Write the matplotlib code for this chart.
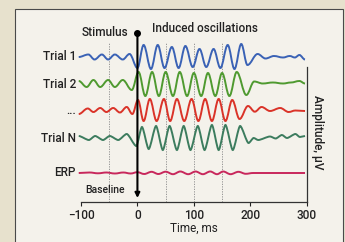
import matplotlib
matplotlib.use("Agg")
import matplotlib.pyplot as plt
from matplotlib.path import Path
from matplotlib.patches import PathPatch, Rectangle

plt.rcParams['font.family'] = ['Roboto', 'DejaVu Sans']
plt.rcParams['font.weight'] = 'medium'

# trace labels, vertical offsets and colours
labels = ['Trial 1', 'Trial 2', '...', 'Trial N', 'ERP']
offsets = [145, 118, 92, 64, 29]
colors = ['#3a62b5', '#4f9a30', '#da3328', '#3c7c5e', '#c8285c']

# extrema of each trace (time in ms, amplitude relative to its offset)
t1 = [-104, -87, -76, -63, -52, -40, -26, -14, 0, 11, 24, 36, 48, 61, 73, 85, 98, 110, 122, 135, 147,
      160, 172, 184, 195, 213, 227, 242, 258, 270, 279, 287, 297]
v1 = [0, 2.5, -2.5, 2.5, -2.5, 2.5, -2.5, 3, -11, 12, -12, 12, -11, 10, -11, 11, -10, 8, -10, 8, -11,
      12, -12, 13, -8, 3, -1.5, 1, -0.5, 1, -0.5, 2, -2.5]

t2 = [-104, -90, -78, -66, -52, -40, -26, -10, 2, 14, 26, 38, 50, 63, 75, 88, 100, 113, 125, 138, 150,
      163, 176, 193, 207, 222, 240, 258, 272, 287, 297]
v2 = [3, -3, 4, -3, 4, -3, 4, -6, 12, -12, 12, -12, 12, -12, 12, -12, 11, -12, 11, -12, 11,
      -12, 12, -11, 2.5, 0.5, 1.5, 0.5, 1.5, 3, 0.5]

t3 = [-104, -88, -78, -66, -55, -43, -31, -19, -9, 1, 11, 22, 34, 47, 58, 70, 83, 96, 108, 120, 132,
      144, 156, 168, 181, 196, 208, 220, 235, 253, 268, 280, 297]
v3 = [-4, 1.5, -2, 2, -2, 2, -2.5, 3, -4, 10, -11, 11, -11, 11, -11, 11, -11, 11, -11, 11, -11,
      11, -11, 10, -9, 4, -1.7, 3, -1, 2, -2, -0.5, -1]

t4 = [-104, -86, -75, -61, -49, -34, -19, -2, 8, 20, 33, 45, 57, 70, 82, 94, 107, 119, 132, 144, 156,
      169, 182, 197, 206, 214, 235, 245, 256, 265, 280, 288, 297]
v4 = [2, -2, 2, -2, 2, -2, 4, -8, 11, -11, 12, -12, 12, -12, 12, -12, 12, -12, 13, -12, 13,
      -12, 12, -5, 0, -2, 1.5, -0.5, 3, 0, 4, 1, 2]

t5 = [-104, -85, -70, -55, -40, -25, -12, 0, 12, 25, 37, 50, 63, 76, 90, 103, 116, 129, 141, 152,
      165, 179, 192, 205, 297]
v5 = [0, 0.5, -0.3, 0.5, -0.5, 0.5, -0.5, 0.8, -1, 1.2, -1, 1.3, -1.2, 1.5, -1.2, 1.5, -1.2, 1.5,
      -1.2, 1.5, -1.2, 1.2, -0.8, 0, 0]

times = [t1, t2, t3, t4, t5]
values = [v1, v2, v3, v4, v5]
sharp = [0.36, 0.36, 0.36, 0.25, 0.36]

grid_ms = [-50, 50, 100, 150]
xticks = [-100, 0, 100, 200, 300]


def wave_path(t, v, base, k):
    # smooth curve through the extrema with flat tangents at each one
    verts = [(t[0], base + v[0])]
    codes = [Path.MOVETO]
    for i in range(1, len(t)):
        dt = t[i] - t[i - 1]
        verts += [(t[i - 1] + k * dt, base + v[i - 1]),
                  (t[i] - k * dt, base + v[i]),
                  (t[i], base + v[i])]
        codes += [Path.CURVE4] * 3
    return Path(verts, codes)


fig = plt.figure(figsize=(3.45, 2.42), dpi=100)
fig.patch.set_facecolor('#e7e1cd')
frame = Rectangle((15 / 345, -0.05), 328 / 345, 1 - 9 / 242 + 0.05,
                  transform=fig.transFigure, facecolor='#f4f2eb',
                  edgecolor='#4a4a4a', lw=0.8, zorder=-10)
fig.patches.append(frame)

ax = fig.add_axes([75.36 / 345, 40 / 242, 236.99 / 345, 193 / 242])
ax.set_zorder(5)
ax.set_facecolor('none')
ax.set_xlim(-110, 310)
ax.set_ylim(0, 193)

for s in ['left', 'top']:
    ax.spines[s].set_visible(False)
ax.spines['bottom'].set_bounds(-100, 300)
ax.spines['right'].set_bounds(0, 135)
ax.spines['right'].set_position(('data', 300))
for s in ['bottom', 'right']:
    ax.spines[s].set_color('#333333')
    ax.spines[s].set_linewidth(0.9)
ax.set_yticks([])
ax.set_xticks(xticks)
ax.set_xticklabels(['\u2212100', '0', '100', '200', '300'])
ax.tick_params(axis='x', length=3, width=0.8, pad=2, labelsize=8.5, colors='#222222')
ax.set_xlabel('Time, ms', fontsize=8.5, labelpad=0, color='#222222')

for g in grid_ms:
    ax.plot([g, g], [0, 159], color='#888888', lw=0.6, ls=(0, (1.5, 1.5)), zorder=1)

for t, v, base, c, k, lab in zip(times, values, offsets, colors, sharp, labels):
    ax.add_patch(PathPatch(wave_path(t, v, base, k), fill=False, edgecolor=c, lw=1.4,
                           zorder=3, clip_on=False))
    ax.text(-109, base, lab, ha='right', va='center', fontsize=8.5, color='#222222')

# stimulus marker
ax.annotate('', xy=(0, 4), xytext=(0, 169),
            arrowprops=dict(arrowstyle='-|>', lw=1.5, color='black', mutation_scale=7,
                            shrinkA=0, shrinkB=0), zorder=5)
ax.plot(0, 169, 'o', color='black', ms=4, zorder=6, clip_on=False)

ax.text(-17, 170, 'Stimulus', ha='right', va='center', fontsize=8.5, color='#222222')
ax.text(26, 173, 'Induced oscillations', ha='left', va='center', fontsize=8.5, color='#222222')
ax.text(-93, 12, 'Baseline', ha='left', va='center', fontsize=7.5, color='#222222')
ax.text(320, 70, 'Amplitude, \u00b5V', ha='center', va='center', rotation=270,
        fontsize=8.5, color='#222222')

fig.savefig('out.png', dpi=100)
